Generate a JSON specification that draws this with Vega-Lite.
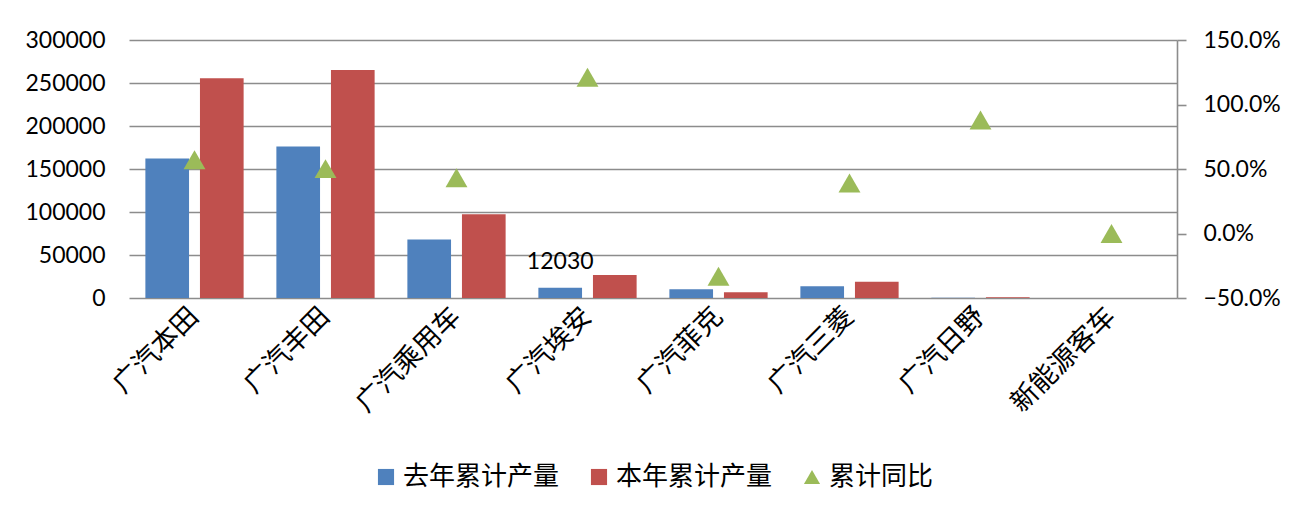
{
  "$schema": "https://vega.github.io/schema/vega-lite/v6.json",
  "width": 1048,
  "height": 258,
  "autosize": "none",
  "padding": {"left": 129, "top": 40, "right": 132, "bottom": 216},
  "background": "white",
  "config": {
    "view": {"stroke": null},
    "axis": {"labelFont": "Lato", "labelFontSize": 23, "labelColor": "#000000", "title": null},
    "legend": {"labelFont": "Noto Sans CJK SC", "labelFontSize": 26, "labelColor": "#000000", "padding": 0}
  },
  "datasets": {
    "bars": [
      {"品牌": "广汽本田", "系列": "去年累计产量", "产量": 162350},
      {"品牌": "广汽本田", "系列": "本年累计产量", "产量": 255470},
      {"品牌": "广汽丰田", "系列": "去年累计产量", "产量": 176260},
      {"品牌": "广汽丰田", "系列": "本年累计产量", "产量": 265200},
      {"品牌": "广汽乘用车", "系列": "去年累计产量", "产量": 68070},
      {"品牌": "广汽乘用车", "系列": "本年累计产量", "产量": 97400},
      {"品牌": "广汽埃安", "系列": "去年累计产量", "产量": 12030},
      {"品牌": "广汽埃安", "系列": "本年累计产量", "产量": 26600},
      {"品牌": "广汽菲克", "系列": "去年累计产量", "产量": 10090},
      {"品牌": "广汽菲克", "系列": "本年累计产量", "产量": 6650},
      {"品牌": "广汽三菱", "系列": "去年累计产量", "产量": 13570},
      {"品牌": "广汽三菱", "系列": "本年累计产量", "产量": 18800},
      {"品牌": "广汽日野", "系列": "去年累计产量", "产量": 150},
      {"品牌": "广汽日野", "系列": "本年累计产量", "产量": 750},
      {"品牌": "新能源客车", "系列": "去年累计产量", "产量": 0},
      {"品牌": "新能源客车", "系列": "本年累计产量", "产量": 0}
    ],
    "label": [
      {"品牌": "广汽埃安", "系列": "去年累计产量", "产量": 12030}
    ],
    "pct": [
      {"品牌": "广汽本田", "系列": "累计同比", "同比": 0.572},
      {"品牌": "广汽丰田", "系列": "累计同比", "同比": 0.503},
      {"品牌": "广汽乘用车", "系列": "累计同比", "同比": 0.433},
      {"品牌": "广汽埃安", "系列": "累计同比", "同比": 1.211},
      {"品牌": "广汽菲克", "系列": "累计同比", "同比": -0.332},
      {"品牌": "广汽三菱", "系列": "累计同比", "同比": 0.391},
      {"品牌": "广汽日野", "系列": "累计同比", "同比": 0.88},
      {"品牌": "新能源客车", "系列": "累计同比", "同比": 0.0}
    ]
  },
  "layer": [
    {
      "data": {"name": "bars"},
      "mark": {"type": "bar"},
      "encoding": {
        "x": {"field": "品牌", "type": "nominal", "sort": null,
              "scale": {"paddingInner": 0.25, "paddingOuter": 0.125},
              "axis": {"labelAngle": -45, "labelAlign": "right", "labelBaseline": "middle", "labelFont": "Noto Sans CJK SC", "labelFontSize": 27, "labelPadding": 14, "domain": false, "ticks": false, "grid": false}},
        "xOffset": {"field": "系列", "type": "nominal", "sort": null,
                    "scale": {"domain": ["去年累计产量", "本年累计产量"], "paddingInner": 0.2, "paddingOuter": 0}},
        "y": {"field": "产量", "type": "quantitative",
              "scale": {"domain": [0, 300000], "nice": false},
              "axis": {"values": [0, 50000, 100000, 150000, 200000, 250000, 300000], "format": "d", "grid": true, "gridColor": "#8c8c8c", "gridWidth": 1.6, "domain": false, "ticks": false, "labelPadding": 24}},
        "color": {"field": "系列", "type": "nominal",
                  "scale": {"domain": ["去年累计产量", "本年累计产量", "累计同比"], "range": ["#4F81BD", "#C0504D", "#9BBB59"]},
                  "legend": {"title": null, "orient": "none", "direction": "horizontal", "legendX": 244, "legendY": 424, "symbolSize": 260, "labelOffset": 4, "columnPadding": 26, "symbolType": "square"}}
      }
    },
    {
      "data": {"name": "label"},
      "mark": {"type": "text", "font": "Lato", "fontSize": 23, "color": "#000000", "baseline": "alphabetic", "dy": -19},
      "encoding": {
        "x": {"field": "品牌", "type": "nominal", "sort": null,
              "scale": {"paddingInner": 0.25, "paddingOuter": 0.125},
              "axis": {"labelAngle": -45, "labelAlign": "right", "labelBaseline": "middle", "labelFont": "Noto Sans CJK SC", "labelFontSize": 27, "labelPadding": 14, "domain": false, "ticks": false, "grid": false}},
        "xOffset": {"field": "系列", "type": "nominal", "sort": null,
                    "scale": {"domain": ["去年累计产量", "本年累计产量"], "paddingInner": 0.2, "paddingOuter": 0}},
        "y": {"field": "产量", "type": "quantitative", "scale": {"domain": [0, 300000], "nice": false}, "axis": null},
        "text": {"field": "产量", "type": "quantitative", "format": "d"}
      }
    },
    {
      "data": {"name": "pct"},
      "mark": {"type": "point", "filled": true, "size": 480, "opacity": 1},
      "encoding": {
        "x": {"field": "品牌", "type": "nominal", "sort": null,
              "scale": {"paddingInner": 0.25, "paddingOuter": 0.125},
              "axis": {"labelAngle": -45, "labelAlign": "right", "labelBaseline": "middle", "labelFont": "Noto Sans CJK SC", "labelFontSize": 27, "labelPadding": 14, "domain": false, "ticks": false, "grid": false}},
        "y": {"field": "同比", "type": "quantitative",
              "scale": {"domain": [-0.5, 1.5], "nice": false},
              "axis": {"orient": "right", "values": [-0.5, 0, 0.5, 1, 1.5], "format": ".1%", "grid": false, "domain": true, "domainColor": "#8c8c8c", "domainWidth": 1.6, "ticks": true, "tickColor": "#8c8c8c", "tickWidth": 1.6, "tickSize": 9, "labelPadding": 17}},
        "color": {"field": "系列", "type": "nominal",
                  "scale": {"domain": ["去年累计产量", "本年累计产量", "累计同比"], "range": ["#4F81BD", "#C0504D", "#9BBB59"]}},
        "shape": {"field": "系列", "type": "nominal",
                  "scale": {"domain": ["去年累计产量", "本年累计产量", "累计同比"], "range": ["square", "square", "triangle-up"]}}
      }
    }
  ],
  "resolve": {"scale": {"y": "independent"}}
}
